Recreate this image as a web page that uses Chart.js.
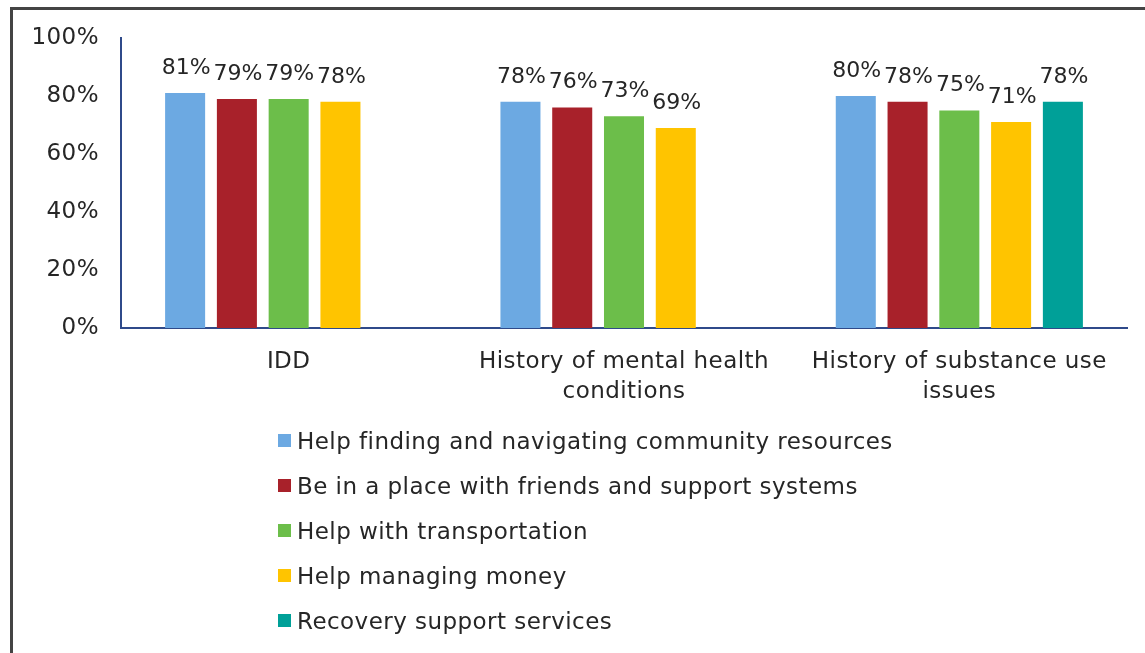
<!DOCTYPE html>
<html>
<head>
<meta charset="utf-8">
<script src="https://cdn.jsdelivr.net/npm/chart.js@4/dist/chart.umd.min.js"></script>
<style>
  html, body { margin: 0; padding: 0; background: #fff; overflow: hidden; }
  #wrap { position: relative; width: 1145px; height: 653px; }
  #frame {
    position: absolute; left: 10px; top: 7px; width: 1200px; height: 700px;
    border-left: 3px solid #444; border-top: 3px solid #444;
  }
  #chartBox { position: absolute; left: 0; top: 0; width: 1145px; height: 653px; }
  #legend {
    position: absolute; left: 278px; top: 418px;
    font-family: "DejaVu Sans", Verdana, sans-serif; font-size: 23px; color: #262626;
    letter-spacing: 0.45px;
  }
  .item { height: 45px; display: flex; align-items: center; white-space: nowrap; }
  .box { width: 13px; height: 13px; margin-right: 6px; }
</style>
</head>
<body>
<div id="wrap">
  <div id="frame"></div>
  <div id="chartBox"><canvas id="myChart" width="1145" height="653"></canvas></div>
  <div id="legend"></div>
</div>
<script>
const categories = ["IDD", ["History of mental health", "conditions"], ["History of substance use", "issues"]];
const seriesNames = [
  "Help finding and navigating community resources",
  "Be in a place with friends and support systems",
  "Help with transportation",
  "Help managing money",
  "Recovery support services",
];
const findingResources = [81, 78, 80];
const friendsSupport = [79, 76, 78];
const transportation = [79, 73, 75];
const managingMoney = [78, 69, 71];
const recoveryServices = [null, null, 78];
const yTicks = [0, 20, 40, 60, 80, 100];
const colors = ["#6CA9E2", "#A8212A", "#6CBE4A", "#FFC400", "#00A098"];

const seriesValues = [findingResources, friendsSupport, transportation, managingMoney, recoveryServices];
const font = "DejaVu Sans";

// Verdana in the original is a bit wider than DejaVu, widen the canvas text
const spacing = {
  id: "spacing",
  beforeDraw(chart) {
    chart.ctx.letterSpacing = "0.45px";
  },
};

const barLabels = {
  id: "barLabels",
  afterDatasetsDraw(chart) {
    const ctx = chart.ctx;
    ctx.save();
    ctx.font = `22px "${font}"`;
    ctx.letterSpacing = "0px";
    ctx.fillStyle = "#262626";
    ctx.textAlign = "center";
    ctx.textBaseline = "middle";
    chart.data.datasets.forEach((ds, i) => {
      chart.getDatasetMeta(i).data.forEach((bar, j) => {
        if (ds.data[j] == null) return;
        ctx.fillText(ds.data[j] + "%", bar.x + 1, bar.y - 25);
      });
    });
    ctx.restore();
  },
};

const ctx = document.getElementById("myChart").getContext("2d");
const myChart = new Chart(ctx, {
  type: "bar",
  data: {
    labels: categories,
    datasets: seriesNames.map((name, i) => ({
      label: name,
      data: seriesValues[i],
      backgroundColor: colors[i],
      barPercentage: 0.773,
      categoryPercentage: 0.772,
    })),
  },
  options: {
    responsive: false,
    animation: false,
    layout: { padding: { left: 0, top: 38, right: 18, bottom: 0 } },
    plugins: { legend: { display: false }, tooltip: { enabled: false } },
    scales: {
      x: {
        grid: { display: false },
        border: { display: true, color: "#2F4A8A", width: 2 },
        ticks: { color: "#262626", font: { family: font, size: 23, lineHeight: 1.3 }, padding: 11, maxRotation: 0, autoSkip: false },
        afterFit: (scale) => { scale.height = 653 - 328; },
      },
      y: {
        min: 0,
        max: 100,
        afterBuildTicks: (scale) => { scale.ticks = yTicks.map((v) => ({ value: v })); },
        grid: { display: false },
        border: { display: true, color: "#2F4A8A", width: 2 },
        ticks: { color: "#262626", font: { family: font, size: 23 }, padding: 14, callback: (v) => v + "%" },
        afterFit: (scale) => { scale.width = 121; },
      },
    },
  },
  plugins: [spacing, barLabels],
});

const legend = document.getElementById("legend");
seriesNames.forEach((name, i) => {
  const item = document.createElement("div");
  item.className = "item";
  item.innerHTML = `<span class="box" style="background:${colors[i]}"></span><span>${name}</span>`;
  legend.appendChild(item);
});
</script>
</body>
</html>
